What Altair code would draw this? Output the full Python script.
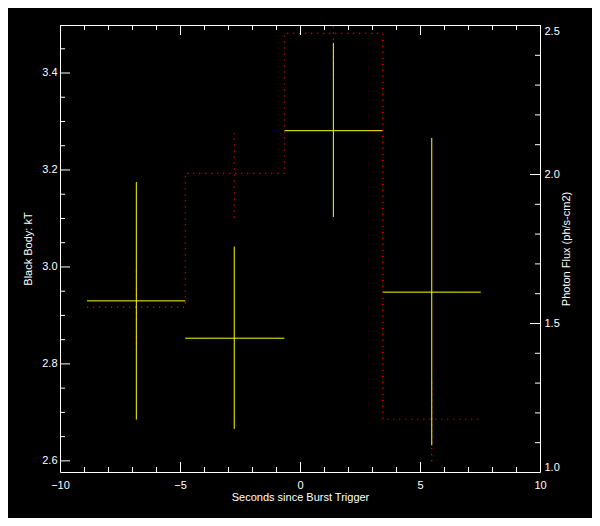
import altair as alt
import pandas as pd

# ---- data ----
t_mid = [-6.82, -2.74, 1.39, 5.49]
t_lo = [-8.875, -4.78, -0.65, 3.45]
t_hi = [-4.78, -0.65, 3.45, 7.53]
kT = [2.929, 2.852, 3.280, 2.947]
kT_lo = [2.684, 2.665, 3.102, 2.631]
kT_hi = [3.174, 3.041, 3.461, 3.265]
flux = [1.553, 2.002, 2.472, 1.177]
flux_lo = [1.41, 1.853, 2.33, 1.036]
flux_hi = [1.69, 2.138, 2.61, 1.318]

x_major = [-10, -5, 0, 5, 10]
x_minor = [-9, -8, -7, -6, -4, -3, -2, -1, 1, 2, 3, 4, 6, 7, 8, 9]
kT_major = [2.6, 2.8, 3.0, 3.2, 3.4]
kT_minor = [2.65, 2.7, 2.75, 2.85, 2.9, 2.95, 3.05, 3.1, 3.15, 3.25, 3.3, 3.35, 3.45]
flux_major = [1.0, 1.5, 2.0, 2.5]
flux_minor = [1.1, 1.2, 1.3, 1.4, 1.6, 1.7, 1.8, 1.9, 2.1, 2.2, 2.3, 2.4]

X_DOMAIN = [-10, 10]
KT_DOMAIN = [2.576, 3.498]
FLUX_DOMAIN = [1.0, 2.5]

W, H = 480, 447
FONT = "Liberation Sans"

bins = pd.DataFrame(dict(t=t_mid, t_lo=t_lo, t_hi=t_hi, kT=kT, kT_lo=kT_lo,
                         kT_hi=kT_hi, flux=flux, flux_lo=flux_lo, flux_hi=flux_hi))
step_rows = []
for i in range(len(flux)):
    step_rows.append(dict(i=2 * i, t=t_lo[i], f=flux[i]))
    step_rows.append(dict(i=2 * i + 1, t=t_hi[i], f=flux[i]))
step = pd.DataFrame(step_rows)

xs = alt.Scale(domain=X_DOMAIN, nice=False, zero=False)
kts = alt.Scale(domain=KT_DOMAIN, nice=False, zero=False)
fls = alt.Scale(domain=FLUX_DOMAIN, nice=False, zero=False)

x_axis = alt.Axis(orient="bottom", values=x_major, format="d", labelFlush=False,
                  labelPadding=16, labelBaseline="alphabetic",
                  title="Seconds since Burst Trigger", titleX=W / 2, titleY=28.5,
                  titleBaseline="alphabetic", titleAlign="center")
left_axis = alt.Axis(orient="left", values=kT_major, format=".1f", labelPadding=3,
                     title="Black Body: kT", titleX=-29, titleY=H / 2, titleAngle=270,
                     titleBaseline="alphabetic", titleAlign="center")
right_axis = alt.Axis(orient="right", values=flux_major, format=".1f", labelPadding=4,
                      labelFlush=True, labelFlushOffset=0,
                      title="Photon Flux (ph/s-cm2)", titleX=29.5, titleY=H / 2,
                      titleAngle=270, titleBaseline="alphabetic", titleAlign="center")

RED = "#ff0000"
YEL = "#ffff00"

step_layer = alt.Chart(step).mark_line(color=RED, strokeWidth=1.2, strokeDash=[1.2, 4.8], clip=True).encode(
    x=alt.X("t:Q", scale=xs),
    y=alt.Y("f:Q", scale=fls, axis=right_axis),
    order="i:Q",
)
flux_err = alt.Chart(bins).mark_rule(color=RED, strokeWidth=1.2, strokeDash=[1.2, 4.8], clip=True).encode(
    x=alt.X("t:Q", scale=xs),
    y=alt.Y("flux_lo:Q", scale=fls, axis=None),
    y2="flux_hi:Q",
)
kT_h = alt.Chart(bins).mark_rule(color=YEL, strokeWidth=1).encode(
    x=alt.X("t_lo:Q", scale=xs, axis=x_axis),
    x2="t_hi:Q",
    y=alt.Y("kT:Q", scale=kts, axis=left_axis),
)
kT_v = alt.Chart(bins).mark_rule(color=YEL, strokeWidth=1).encode(
    x=alt.X("t:Q", scale=xs),
    y=alt.Y("kT_lo:Q", scale=kts, axis=None),
    y2="kT_hi:Q",
)


def xticks(vals, y0, y1):
    return alt.Chart(pd.DataFrame({"v": vals})).mark_rule(color="white", strokeWidth=1, xOffset=0.5).encode(
        x=alt.X("v:Q", scale=xs), y=alt.value(y0), y2=alt.value(y1))


def yticks(vals, scale, x0, x1):
    return alt.Chart(pd.DataFrame({"v": vals})).mark_rule(color="white", strokeWidth=1, yOffset=0.5).encode(
        y=alt.Y("v:Q", scale=scale, axis=None), x=alt.value(x0), x2=alt.value(x1))


ticks = [
    xticks(x_major, H, H - 10), xticks(x_minor, H, H - 5),
    xticks(x_major, 0, 10), xticks(x_minor, 0, 5),
    yticks(kT_major, kts, 0, 10), yticks(kT_minor, kts, 0, 5),
    yticks(flux_major, fls, W, W - 10), yticks(flux_minor, fls, W, W - 5),
]

chart = alt.layer(kT_h, step_layer, flux_err, *ticks, kT_v).resolve_scale(
    y="independent"
).properties(
    width=W, height=H,
    autosize=alt.AutoSizeParams(type="none"),
    padding={"left": 52, "top": 17, "right": 52, "bottom": 46},
    background="black",
).configure_view(
    stroke="white", strokeWidth=1
).configure_axis(
    domain=False, ticks=False, tickSize=0, grid=False,
    labelColor="white", titleColor="white",
    labelFont=FONT, titleFont=FONT, labelFontSize=11, titleFontSize=11,
    titleFontWeight="normal",
)

chart.save("out.html", embed_options={"renderer": "svg", "actions": False})
